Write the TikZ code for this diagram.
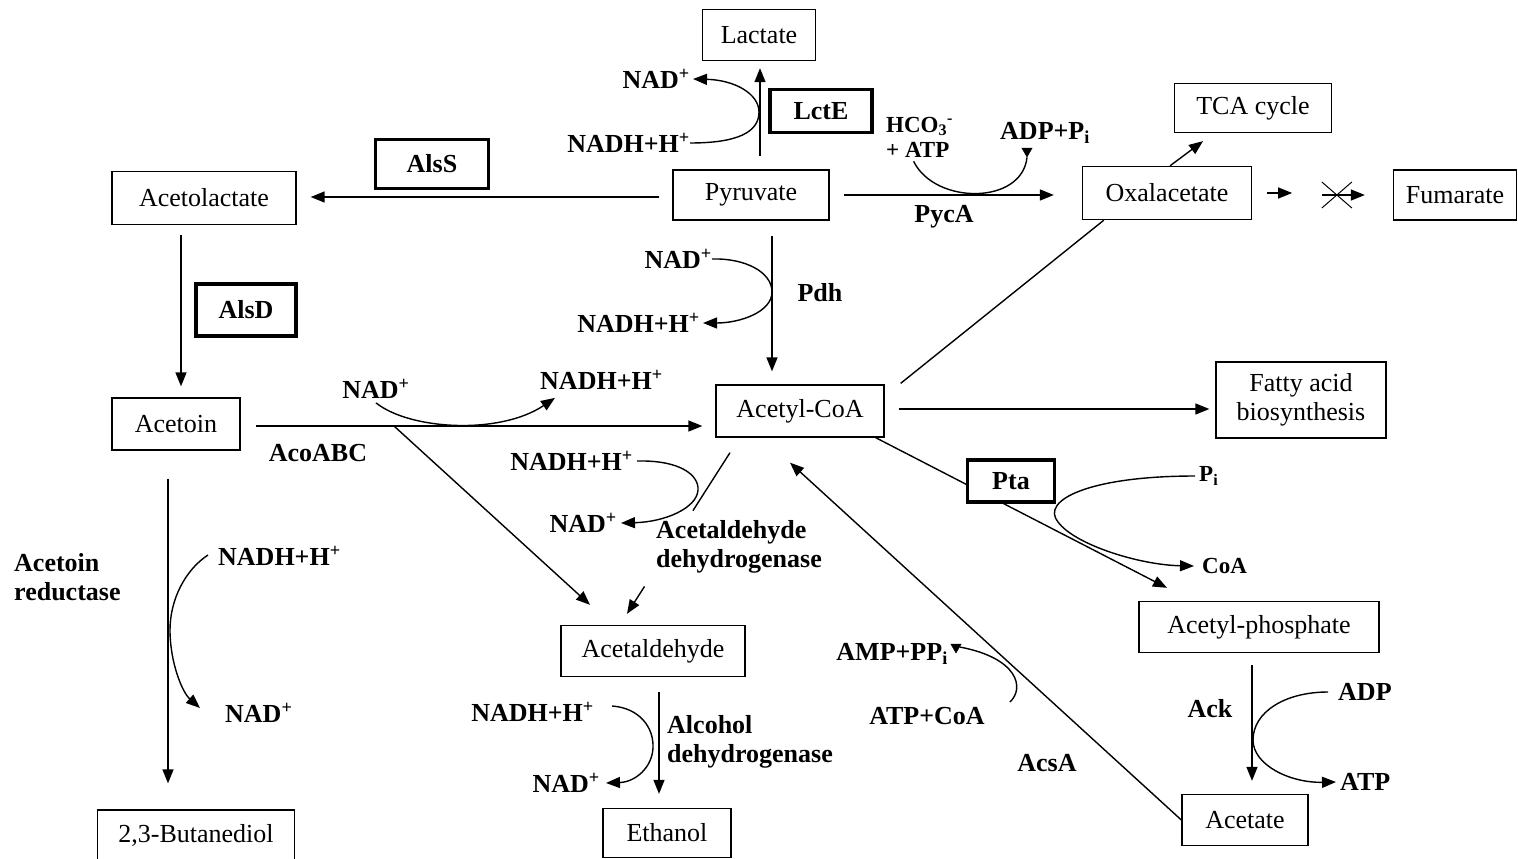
\documentclass[tikz,border=0pt]{standalone}
\usepackage{fontspec}
\setmainfont{Liberation Serif}
\usetikzlibrary{arrows.meta,calc,shapes.geometric}
\pgfdeclarelayer{background}
\pgfsetlayers{background,main}

\begin{document}
\begin{tikzpicture}[x=1pt,y=-1pt,
  every node/.style={font=\fontsize{26}{29}\selectfont},
  box/.style={draw, line width=1.3pt, fill=white, inner sep=0pt},
  enz/.style={draw, line width=3.2pt, fill=white, inner sep=0pt,
              font=\fontsize{26}{29}\selectfont\bfseries},
  lab/.style={inner sep=0pt, font=\fontsize{26}{29}\selectfont\bfseries},
  slab/.style={inner sep=0pt, font=\fontsize{23}{25}\selectfont\bfseries},
  conn/.style={line width=1.4pt},
  arr/.style={conn, -{Triangle[length=14pt,width=11pt]}},
  tri/.style={isosceles triangle, isosceles triangle apex angle=60,
              shape border rotate=-90, fill, draw, inner sep=0pt, minimum size=9pt}
]
\useasboundingbox (0,0) rectangle (1518,859);

% metabolites
\node[box, minimum width=113pt, minimum height=51pt] (lactate) at (759,35) {Lactate};
\node[box, minimum width=156pt, minimum height=50pt] (pyr) at (751,195) {Pyruvate};
\node[box, minimum width=184pt, minimum height=53pt] (acl) at (204,198) {Acetolactate};
\node[box, minimum width=169pt, minimum height=53pt] (oxa) at (1167,193) {Oxalacetate};
\node[box, minimum width=157pt, minimum height=49pt] (tca) at (1253,108) {TCA cycle};
\node[box, minimum width=123pt, minimum height=50pt] (fum) at (1455,195) {Fumarate};
\node[box, minimum width=168pt, minimum height=52pt] (acoa) at (800,411) {Acetyl-CoA};
\node[box, minimum width=170pt, minimum height=76pt, align=center] (fatty) at (1301,400) {Fatty acid\\biosynthesis};
\node[box, minimum width=128pt, minimum height=52pt] (acetoin) at (176,424) {Acetoin};
\node[box, minimum width=240pt, minimum height=51pt] (acph) at (1259,627) {Acetyl-phosphate};
\node[box, minimum width=126pt, minimum height=51pt] (acetate) at (1245,820) {Acetate};
\node[box, minimum width=184pt, minimum height=51pt] (acald) at (653,651) {Acetaldehyde};
\node[box, minimum width=128pt, minimum height=49pt] (ethanol) at (667,833) {Ethanol};
\node[box, minimum width=197pt, minimum height=50pt] (butd) at (196,835) {2,3-Butanediol};

% enzymes in frames
\node[enz, minimum width=102pt, minimum height=43pt] (lcte) at (821,111) {LctE};
\node[enz, minimum width=113pt, minimum height=49pt] (alss) at (432,164) {AlsS};
\node[enz, minimum width=100pt, minimum height=52pt] (alsd) at (246,310) {AlsD};
\node[enz, minimum width=87pt, minimum height=42pt] (pta) at (1011,481) {Pta};

% cofactors and enzyme names
\node[lab, anchor=east] (nadA) at (690,79) {NAD\textsuperscript{+}};
\node[lab, anchor=east] (nadhA) at (690,143) {NADH+H\textsuperscript{+}};
\node[slab, anchor=west, align=left] (hco) at (886,137) {HCO\textsubscript{3}\textsuperscript{-}\\+ ATP};
\node[lab, anchor=west] (adp1) at (1000,133) {ADP+P\textsubscript{i}};
\node[lab] (pyca) at (944,217) {PycA};
\node[lab] (pdh) at (820,293) {Pdh};
\node[lab, anchor=east] (nadB) at (712,259) {NAD\textsuperscript{+}};
\node[lab, anchor=east] (nadhB) at (700,323) {NADH+H\textsuperscript{+}};
\node[lab] (nadC) at (376,389) {NAD\textsuperscript{+}};
\node[lab, anchor=west] (nadhC) at (540,380) {NADH+H\textsuperscript{+}};
\node[lab] (aco) at (318,453) {AcoABC};
\node[lab, anchor=east] (nadhD) at (633,461) {NADH+H\textsuperscript{+}};
\node[lab, anchor=east] (nadD) at (617,523) {NAD\textsuperscript{+}};
\node[lab, anchor=west, align=left] (ald) at (656,547) {Acetaldehyde\\dehydrogenase};
\node[lab, anchor=west, align=left] (adh) at (667,742) {Alcohol\\dehydrogenase};
\node[lab, anchor=east] (nadhE) at (594,712) {NADH+H\textsuperscript{+}};
\node[lab, anchor=east] (nadE) at (600,783) {NAD\textsuperscript{+}};
\node[lab, anchor=west, align=left] (ar) at (14,577) {Acetoin\\reductase};
\node[lab, anchor=west] (nadhF) at (218,556) {NADH+H\textsuperscript{+}};
\node[lab, anchor=west] (nadF) at (225,713) {NAD\textsuperscript{+}};
\node[slab, anchor=west] (pi) at (1199,476) {P\textsubscript{i}};
\node[slab, anchor=west] (coa) at (1202,566) {CoA};
\node[lab, anchor=east] (amp) at (948,654) {AMP+PP\textsubscript{i}};
\node[lab] (atpcoa) at (927,716) {ATP+CoA};
\node[lab] (acsa) at (1047,763) {AcsA};
\node[lab] (ack) at (1210,709) {Ack};
\node[lab, anchor=west] (adp2) at (1338,692) {ADP};
\node[lab, anchor=west] (atp) at (1340,782) {ATP};

% small down-pointing heads
\node[tri] (t1) at (1027,151) {};
\node[tri] (t2) at (956,647) {};

\begin{pgfonlayer}{background}
% pyruvate -> lactate
\coordinate (lx) at ([xshift=1pt]lactate.south);
\draw[arr, shorten <=13pt, shorten >=7pt] (lx |- pyr.north) -- (lx);
\draw[arr] (nadhA.east) .. controls (738,143) and (759,132) .. (759,112)
  .. controls (759,94) and (735,80) .. ([xshift=3pt]nadA.east);

% pyruvate -> acetolactate
\draw[arr, shorten <=13pt, shorten >=14pt] ([yshift=-2pt]pyr.west) -- ([yshift=-2pt]pyr.west -| acl.east);

% pyruvate -> oxalacetate
\draw[arr, shorten <=14pt, shorten >=28pt] (pyr.east) -- (pyr.east -| oxa.west);
\draw[conn] ([xshift=-6pt,yshift=-4pt]hco.south) .. controls (935,205) and (1022,205) .. (t1.apex);

% pyruvate -> acetyl-CoA
\coordinate (px) at ([xshift=21pt]pyr.south);
\draw[arr, shorten <=15pt, shorten >=13pt] (px) -- (px |- acoa.north);
\draw[arr] (nadB.east) .. controls (745,258) and (772,272) .. (772,292)
  .. controls (772,312) and (740,323) .. ([xshift=3pt]nadhB.east);

% acetolactate -> acetoin
\coordinate (ax) at ([xshift=-23pt]acl.south);
\draw[arr, shorten <=10pt, shorten >=11pt] (ax) -- (ax |- acetoin.north);

% acetoin -> acetyl-CoA
\draw[arr, shorten <=15pt, shorten >=13pt] ([yshift=-2pt]acetoin.east) -- ([yshift=-2pt]acetoin.east -| acoa.west);
\draw[arr] ([yshift=-4pt]nadC.south) .. controls (410,430) and (500,435) .. ([xshift=15pt,yshift=-8pt]nadhC.south west);

% branch to acetaldehyde
\coordinate (br) at (394,426);
\draw[arr] (br) -- ([xshift=-63pt,yshift=20pt]acald.north);

% acetyl-CoA -> acetaldehyde, interrupted by the enzyme name
\coordinate (s) at ([xshift=-70pt,yshift=-15pt]acoa.south);
\coordinate (e) at ([xshift=-26pt,yshift=11pt]acald.north);
\draw[conn] (s) -- ($(s)!0.36!(e)$);
\draw[arr] ($(s)!0.83!(e)$) -- (e);
\draw[arr] ([xshift=4pt]nadhD.east) .. controls (680,460) and (699,475) .. (698,490)
  .. controls (697,508) and (665,522) .. ([xshift=4pt]nadD.east);

% acetaldehyde -> ethanol
\coordinate (ex) at ([xshift=6pt]acald.south);
\draw[arr, shorten <=15pt, shorten >=14pt] (ex) -- (ex |- ethanol.north);
\draw[arr] ([xshift=18pt,yshift=6pt]nadhE.east) .. controls (640,708) and (654,728) .. (653,748)
  .. controls (652,768) and (635,782) .. ([xshift=6pt]nadE.east);

% acetoin -> 2,3-butanediol
\coordinate (bx) at ([xshift=-8pt]acetoin.south);
\draw[arr, shorten <=28pt, shorten >=26pt] (bx) -- (bx |- butd.north);
\draw[arr] ([xshift=-10pt,yshift=1pt]nadhF.west) .. controls (185,570) and (170,600) .. (170,630)
  .. controls (170,662) and (182,692) .. ([xshift=-25pt,yshift=5pt]nadF.west);

% acetyl-CoA -- oxalacetate, oxalacetate -> TCA cycle
\draw[conn] ([xshift=16pt,yshift=1pt]acoa.north east) -- ([xshift=22pt]oxa.south west);
\draw[arr] ([xshift=3pt]oxa.north) -- ([xshift=-50pt,yshift=-8pt]tca.south);

% oxalacetate -> fumarate (blocked)
\draw[arr] ([xshift=15pt]oxa.east) -- ([xshift=40pt]oxa.east);
\draw[arr] ([xshift=-71pt]fum.west) -- ([xshift=-28pt]fum.west);
\draw[line width=1pt] ([xshift=-71pt,yshift=13pt]fum.west) -- ([xshift=-41pt,yshift=-13pt]fum.west);
\draw[line width=1pt] ([xshift=-71pt,yshift=-13pt]fum.west) -- ([xshift=-41pt,yshift=13pt]fum.west);

% acetyl-CoA -> fatty acid biosynthesis
\draw[arr, shorten <=14pt, shorten >=6pt] ([yshift=2pt]acoa.east) -- ([yshift=2pt]acoa.east -| fatty.west);

% acetyl-CoA -> acetyl-phosphate (Pta)
\draw[arr] ([xshift=-9pt]acoa.south east) -- ([xshift=-92pt,yshift=13pt]acph.north);
\draw[arr] ([xshift=-4pt]pi.west) .. controls (1090,476) and (1040,500) .. (1058,522)
  .. controls (1075,545) and (1140,565) .. ([xshift=-8pt]coa.west);

% acetyl-phosphate -> acetate (Ack)
\coordinate (kx) at ([xshift=-7pt]acph.south);
\draw[arr, shorten <=12pt, shorten >=13pt] (kx) -- (kx |- acetate.north);
\draw[arr] ([xshift=-10pt]adp2.west) .. controls (1285,692) and (1253,712) .. (1253,740)
  .. controls (1253,765) and (1290,783) .. ([xshift=-4pt]atp.west);

% acetate -> acetyl-CoA (AcsA)
\draw[arr] (acetate.west) -- ([xshift=-10pt,yshift=-25pt]acoa.south);
\draw[conn] ([xshift=25pt,yshift=14pt]atpcoa.east) .. controls (1025,688) and (1018,658) .. (t2.east);
\end{pgfonlayer}
\end{tikzpicture}
\end{document}
